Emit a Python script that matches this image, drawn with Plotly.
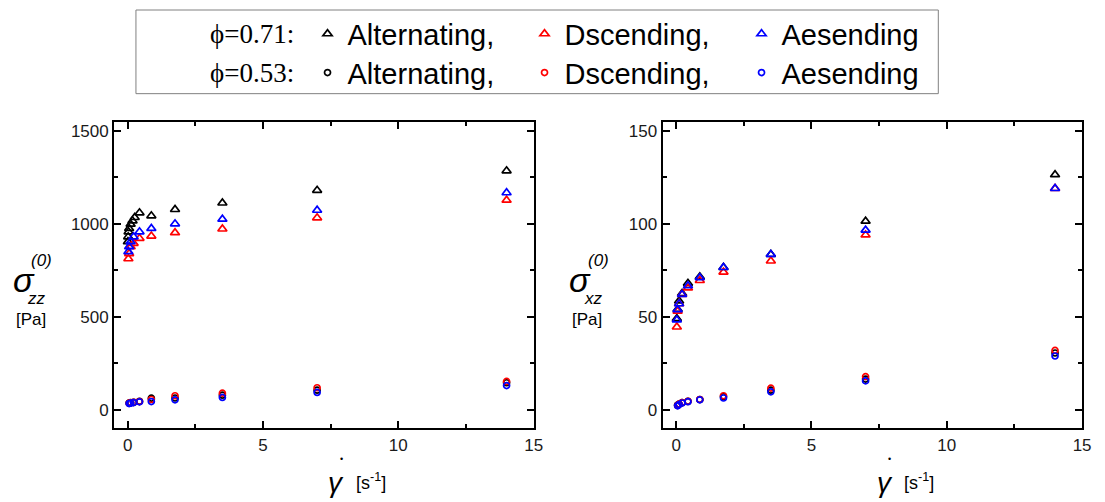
import plotly.graph_objects as go

# The page body has an 8px margin, so the figure is drawn at (8, 8).
OFF = 8
W, H = 1105 - OFF, 502 - OFF

def PX(x):
    return (x - OFF) / W

def PY(y):
    return 1 - (y - OFF) / H

# ---------------- data ----------------
# Left panel: sigma_zz^(0) [Pa]
zz71_alt_x = [14, 7, 3.5, 1.75, 0.875, 0.4375, 0.26, 0.18, 0.11, 0.055, 0.035, 0.02, 0.01]
zz71_alt_y = [1285, 1180, 1112, 1077, 1043, 1059, 1034, 1016, 998, 975, 957, 930, 904]
zz71_x = [14, 7, 3.5, 1.75, 0.875, 0.4375, 0.22, 0.11, 0.055, 0.027]
zz71_des_y = [1127, 1032, 972, 952, 934, 922, 895, 877, 840, 812]
zz71_asc_y = [1167, 1073, 1025, 1000, 975, 957, 930, 904, 877, 850]

zz53_x = [14, 7, 3.5, 1.75, 0.875, 0.4375, 0.22, 0.11, 0.055]
zz53_alt_y = [145, 105, 78, 63, 62, 45, 40, 38, 36]
zz53_des_y = [152, 118, 89, 75, 55, 44, 40, 37, 35]
zz53_asc_y = [130, 93, 66, 53, 44, 42, 38, 35, 33]

# Right panel: sigma_xz^(0) [Pa]
xz71_x = [14, 7, 3.5, 1.75, 0.875, 0.4375, 0.22, 0.11, 0.055, 0.027]
xz71_alt_y = [126.4, 101.4, 83.5, 76.5, 71.5, 68, 62.5, 58.5, 54, 49]
xz71_des_y = [119, 94, 80, 74, 69.5, 65.5, 62, 57, 53, 44.5]
xz71_asc_y = [119, 96.6, 83.6, 76.5, 71, 66.7, 62, 57, 53.8, 48.3]

xz53_x = [14, 7, 3.5, 1.75, 0.875, 0.4375, 0.22, 0.11, 0.055]
xz53_alt_y = [30.5, 16.5, 10.5, 7, 5.5, 4.5, 3.8, 3, 2.5]
xz53_des_y = [31.9, 17.8, 11.6, 7.5, 5.5, 4.5, 3.8, 3, 2.3]
xz53_asc_y = [28.9, 15.5, 9.6, 6.3, 5.3, 4.3, 3.6, 2.8, 2.1]

series_names = ["Alternating,", "Dscending,", "Aesending"]
series_colors = ["#000000", "#ff0000", "#0000ff"]
row_labels = ["ϕ=0.71:", "ϕ=0.53:"]

x_ticks = [0, 5, 10, 15]
zz_ticks = [0, 500, 1000, 1500]
xz_ticks = [0, 50, 100, 150]

# ---------------- figure ----------------
fig = go.Figure()

tri = dict(symbol="triangle-up-open", size=8, line=dict(width=1.7))
cir = dict(symbol="circle-open", size=6, line=dict(width=1.7))

panels = [
    ("x", "y", zz71_alt_x, zz71_alt_y, zz71_x, zz71_des_y, zz71_asc_y,
     zz53_x, zz53_alt_y, zz53_des_y, zz53_asc_y, True),
    ("x2", "y2", xz71_x, xz71_alt_y, xz71_x, xz71_des_y, xz71_asc_y,
     xz53_x, xz53_alt_y, xz53_des_y, xz53_asc_y, False),
]

for (xa, ya, ax71, ay71, x71, dy71, ay71b, x53, a53, d53, s53, leg) in panels:
    xs71 = [ax71, x71, x71]
    ys71 = [ay71, dy71, ay71b]
    ys53 = [a53, d53, s53]
    for i in range(3):
        fig.add_trace(go.Scatter(
            x=xs71[i], y=ys71[i], mode="markers", xaxis=xa, yaxis=ya,
            name=series_names[i], legend="legend", legendrank=i + 1,
            showlegend=leg,
            marker=dict(color=series_colors[i], **tri),
        ))
    for i in range(3):
        fig.add_trace(go.Scatter(
            x=x53, y=ys53[i], mode="markers", xaxis=xa, yaxis=ya,
            name=series_names[i], legend="legend2", legendrank=i + 1,
            showlegend=leg,
            marker=dict(color=series_colors[i], **cir),
        ))

tickfont = dict(family="Liberation Sans, Arial", size=17, color="#1a1a1a")
axis_common = dict(
    showline=True, linecolor="black", linewidth=2, mirror="ticks",
    ticks="inside", ticklen=7, tickwidth=2, tickcolor="black",
    showgrid=False, zeroline=False, tickfont=tickfont,
)

def xaxis(domain, anchor):
    return dict(domain=domain, anchor=anchor, range=[-0.5, 15],
                tickvals=x_ticks, ticktext=[str(v) for v in x_ticks],
                minor=dict(ticks="inside", ticklen=4, tickwidth=2, tickcolor="black",
                           tickvals=[2.5, 7.5, 12.5]),
                **axis_common)

def yaxis(domain, anchor, rng, ticks, minor_vals):
    return dict(domain=domain, anchor=anchor, range=rng,
                tickvals=ticks, ticktext=[str(v) for v in ticks],
                minor=dict(ticks="inside", ticklen=4, tickwidth=2, tickcolor="black",
                           tickvals=minor_vals),
                **axis_common)

ydom = [PY(428), PY(120)]
legfont = dict(family="Liberation Sans, Arial", size=29, color="black")
fig.update_layout(
    width=W, height=H,
    margin=dict(l=0, r=0, t=0, b=0),
    paper_bgcolor="white", plot_bgcolor="white",
    xaxis=xaxis([PX(115), PX(538)], "y"),
    yaxis=yaxis(ydom, "x", [-100, 1550], zz_ticks, [250, 750, 1250]),
    xaxis2=xaxis([PX(668), PX(1091)], "y2"),
    yaxis2=yaxis(ydom, "x2", [-10, 155], xz_ticks, [25, 75, 125]),
    legend=dict(orientation="h", x=PX(310), xanchor="left", y=PY(32), yanchor="middle",
                font=legfont, bgcolor="rgba(0,0,0,0)", entrywidth=172,
                entrywidthmode="pixels", itemclick=False, itemdoubleclick=False),
    legend2=dict(orientation="h", x=PX(310), xanchor="left", y=PY(71), yanchor="middle",
                 font=legfont, bgcolor="rgba(0,0,0,0)", entrywidth=172,
                 entrywidthmode="pixels", itemclick=False, itemdoubleclick=False),
    showlegend=True,
)

# legend frame
fig.add_shape(type="rect", xref="paper", yref="paper",
              x0=PX(137), x1=PX(946), y0=PY(92), y1=PY(8),
              line=dict(color="#808080", width=1), fillcolor="rgba(0,0,0,0)")

def ann(text, px, py, size, family="Liberation Sans, Arial", xanchor="center", italic=False):
    if italic:
        text = "<i>" + text + "</i>"
    fig.add_annotation(text=text, x=PX(px), y=PY(py), xref="paper", yref="paper",
                       xanchor=xanchor, yanchor="middle", showarrow=False,
                       font=dict(family=family, size=size, color="black"))

# legend row labels
ann(row_labels[0], 298, 32, 27, family="Liberation Serif, Times New Roman", xanchor="right")
ann(row_labels[1], 298, 71, 27, family="Liberation Serif, Times New Roman", xanchor="right")

# y-axis titles
for ax0, sub in [(24, "zz"), (585, "xz")]:
    ann("σ", ax0, 279, 34, italic=True)
    ann("(0)", ax0 + 18, 260, 17, italic=True)
    ann(sub, ax0 + 13, 298, 17, italic=True)
    ann("[Pa]", ax0 + 7, 319, 17)

# x-axis titles
for dx in [0, 553]:
    ann("γ", 339 + dx, 482, 28, italic=True)
    ann("•", 344 + dx, 459, 9)
    ann("[s<sup>-1</sup>]", 374 + dx, 481, 18)

fig.write_html("out.html")
